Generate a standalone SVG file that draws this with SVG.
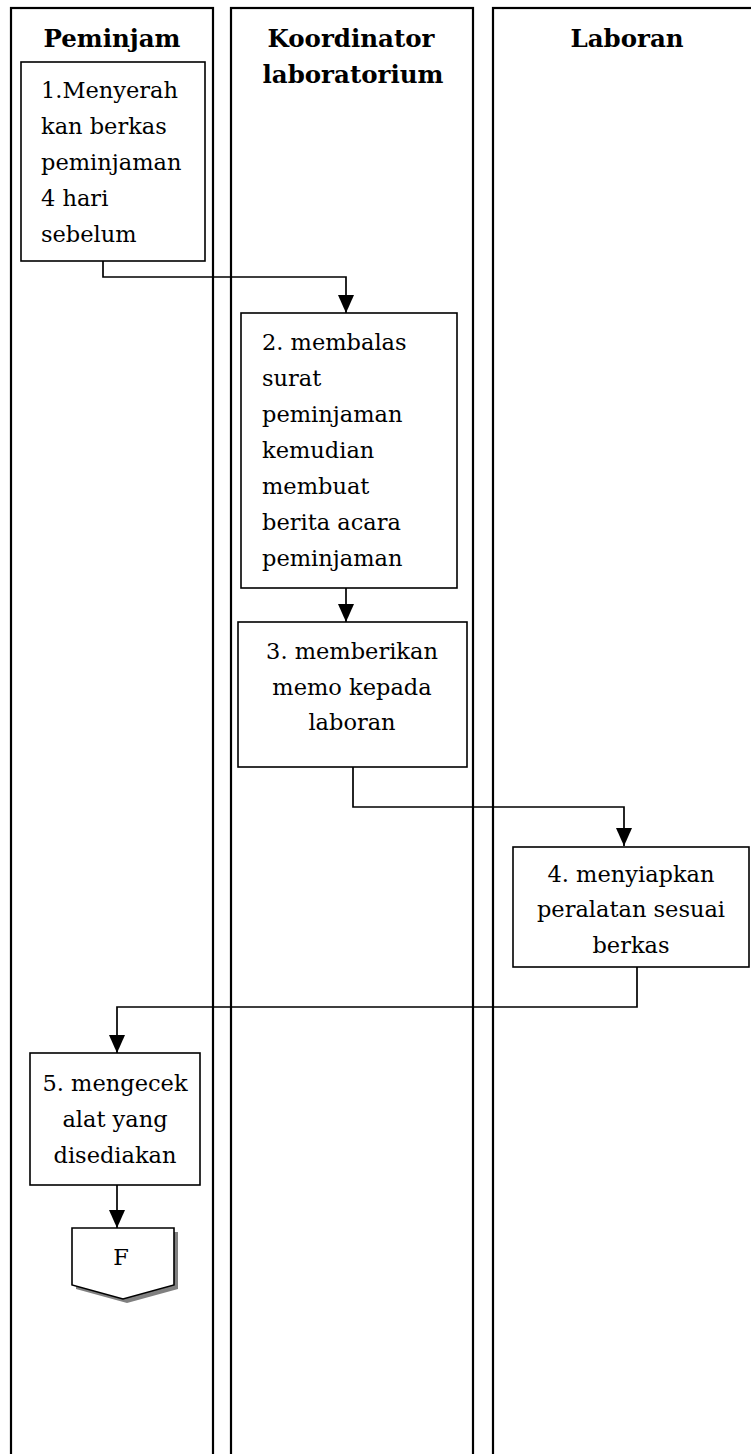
<svg xmlns="http://www.w3.org/2000/svg" width="751" height="1454" viewBox="0 0 751 1454">
  <style>
    .lane { fill: none; stroke: #000; stroke-width: 2.2; }
    .box { fill: #fff; stroke: #000; stroke-width: 1.6; }
    .head { font-family: "DejaVu Serif", "Liberation Serif", serif; font-weight: bold; font-size: 24.5px; fill: #000; text-anchor: middle; }
    .txt { font-family: "DejaVu Serif", "Liberation Serif", serif; font-size: 22.5px; fill: #000; }
    .mid { text-anchor: middle; }
    .conn { fill: none; stroke: #000; stroke-width: 1.7; }
  </style>
  <defs>
    <marker id="arrow" markerUnits="userSpaceOnUse" markerWidth="18" markerHeight="16" refX="18" refY="8" orient="auto">
      <path d="M0,0 L18,8 L0,16 Z" fill="#000"/>
    </marker>
  </defs>

  <rect width="751" height="1454" fill="#fff"/>

  <!-- swimlanes -->
  <g id="lanes">
    <g id="lane-peminjam">
      <rect class="lane" x="11" y="8" width="202" height="1470"/>
      <text class="head" x="112" y="47">Peminjam</text>
    </g>
    <g id="lane-koordinator">
      <rect class="lane" x="231" y="8" width="242" height="1470"/>
      <text class="head" x="351" y="47">Koordinator</text>
      <text class="head" x="353" y="83">laboratorium</text>
    </g>
    <g id="lane-laboran">
      <rect class="lane" x="493" y="8" width="280" height="1470"/>
      <text class="head" x="627" y="47">Laboran</text>
    </g>
  </g>

  <!-- connectors -->
  <g id="connectors">
    <polyline class="conn" points="103,261 103,277 346,277 346,313" marker-end="url(#arrow)"/>
    <polyline class="conn" points="346,588 346,622" marker-end="url(#arrow)"/>
    <polyline class="conn" points="353,767 353,807 624,807 624,846" marker-end="url(#arrow)"/>
    <polyline class="conn" points="637,967 637,1007 117,1007 117,1053" marker-end="url(#arrow)"/>
    <polyline class="conn" points="117,1185 117,1228" marker-end="url(#arrow)"/>
  </g>

  <!-- step 1 -->
  <g id="step1">
    <rect class="box" x="21" y="62" width="184" height="199"/>
    <text class="txt" x="41" y="98">1.Menyerah</text>
    <text class="txt" x="41" y="134">kan berkas</text>
    <text class="txt" x="41" y="170">peminjaman</text>
    <text class="txt" x="41" y="206">4 hari</text>
    <text class="txt" x="41" y="242">sebelum</text>
  </g>

  <!-- step 2 -->
  <g id="step2">
    <rect class="box" x="241" y="313" width="216" height="275"/>
    <text class="txt" x="262" y="350">2. membalas</text>
    <text class="txt" x="262" y="386">surat</text>
    <text class="txt" x="262" y="422">peminjaman</text>
    <text class="txt" x="262" y="458">kemudian</text>
    <text class="txt" x="262" y="494">membuat</text>
    <text class="txt" x="262" y="530">berita acara</text>
    <text class="txt" x="262" y="566">peminjaman</text>
  </g>

  <!-- step 3 -->
  <g id="step3">
    <rect class="box" x="238" y="622" width="229" height="145"/>
    <text class="txt mid" x="352" y="659">3. memberikan</text>
    <text class="txt mid" x="352" y="695">memo kepada</text>
    <text class="txt mid" x="352" y="730">laboran</text>
  </g>

  <!-- step 4 -->
  <g id="step4">
    <rect class="box" x="513" y="847" width="236" height="120"/>
    <text class="txt mid" x="631" y="882">4. menyiapkan</text>
    <text class="txt mid" x="631" y="917">peralatan sesuai</text>
    <text class="txt mid" x="631" y="953">berkas</text>
  </g>

  <!-- step 5 -->
  <g id="step5">
    <rect class="box" x="30" y="1053" width="170" height="132"/>
    <text class="txt mid" x="115" y="1091">5. mengecek</text>
    <text class="txt mid" x="115" y="1127">alat yang</text>
    <text class="txt mid" x="115" y="1163">disediakan</text>
  </g>

  <!-- off-page connector F -->
  <g id="offpage-F">
    <polygon points="76,1232 178,1232 178,1289 127,1303 76,1289" fill="#808080"/>
    <polygon class="box" points="72,1228 174,1228 174,1285 123,1299 72,1285"/>
    <text class="txt mid" x="121" y="1265">F</text>
  </g>
</svg>
